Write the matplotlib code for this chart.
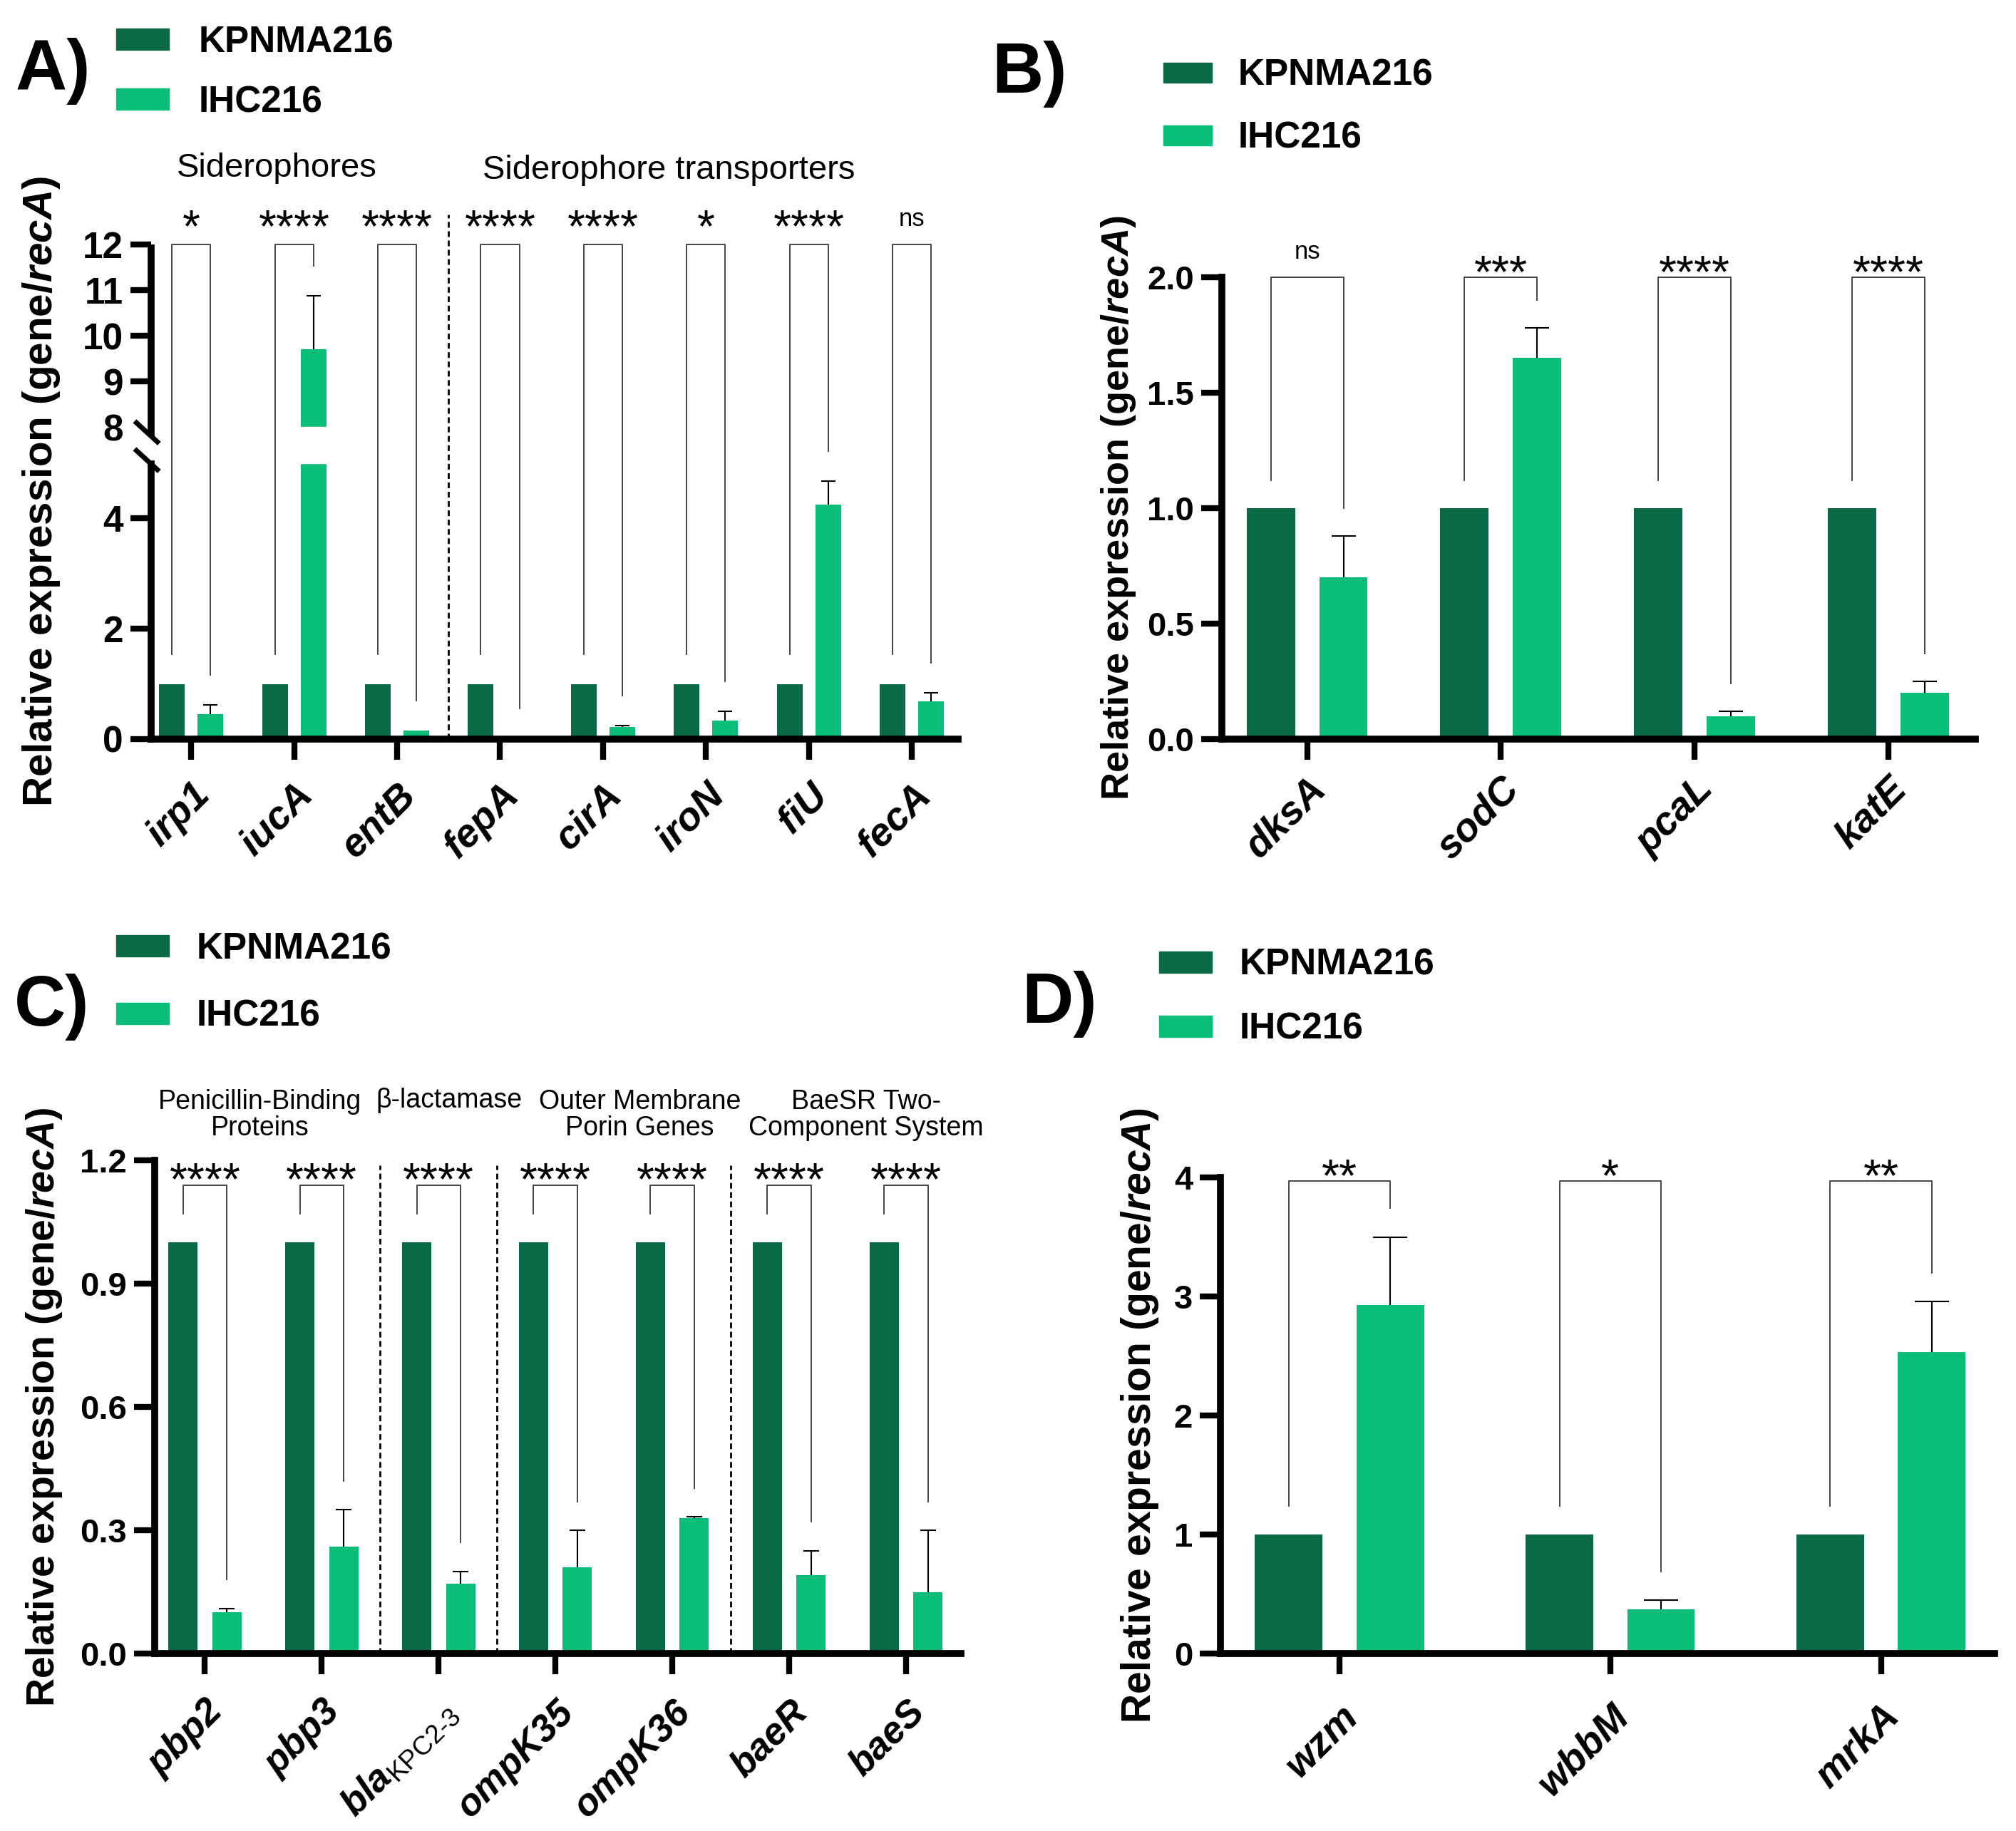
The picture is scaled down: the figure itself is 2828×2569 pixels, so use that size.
import numpy as np
import matplotlib
matplotlib.use('Agg')
import matplotlib.pyplot as plt
from matplotlib.patches import Rectangle

plt.rcParams['font.family'] = 'Liberation Sans'
plt.rcParams['mathtext.fontset'] = 'custom'
plt.rcParams['mathtext.rm'] = 'Liberation Sans'
plt.rcParams['mathtext.it'] = 'Liberation Sans:italic:bold'
plt.rcParams['mathtext.bf'] = 'Liberation Sans:bold'

STRAINS = ['KPNMA216', 'IHC216']
DARK = '#0B6A46'
LIGHT = '#08BE78'
LINE = '#454545'

# A) iron acquisition
genes_a = ['irp1', 'iucA', 'entB', 'fepA', 'cirA', 'iroN', 'fiU', 'fecA']
kpn_a = [1, 1, 1, 1, 1, 1, 1, 1]
ihc_a = [0.45, 9.70, 0.16, 0.02, 0.22, 0.33, 4.24, 0.68]
ihc_a_err = [0.17, 1.18, 0.0, 0.0, 0.03, 0.17, 0.43, 0.16]
sig_a = ['*', '****', '****', '****', '****', '*', '****', 'ns']
yticks_a = [0, 2, 4, 8, 9, 10, 11, 12]
groups_a = ['Siderophores', 'Siderophore transporters']

# B) oxidative stress
genes_b = ['dksA', 'sodC', 'pcaL', 'katE']
kpn_b = [1, 1, 1, 1]
ihc_b = [0.70, 1.65, 0.10, 0.20]
ihc_b_err = [0.18, 0.13, 0.02, 0.05]
sig_b = ['ns', '***', '****', '****']
yticks_b = [0.0, 0.5, 1.0, 1.5, 2.0]

# C) antibiotic resistance
genes_c = ['pbp2', 'pbp3', '$bla_{\\mathrm{KPC2\u20103}}$', 'ompK35', 'ompK36', 'baeR', 'baeS']
kpn_c = [1, 1, 1, 1, 1, 1, 1]
ihc_c = [0.10, 0.26, 0.17, 0.21, 0.33, 0.19, 0.15]
ihc_c_err = [0.01, 0.09, 0.03, 0.09, 0.003, 0.06, 0.15]
sig_c = ['****'] * 7
yticks_c = [0.0, 0.3, 0.6, 0.9, 1.2]
groups_c = ['Penicillin-Binding\nProteins', '\u03b2-lactamase',
            'Outer Membrane\nPorin Genes', 'BaeSR Two-\nComponent System']

# D) capsule / fimbriae
genes_d = ['wzm', 'wbbM', 'mrkA']
kpn_d = [1, 1, 1]
ihc_d = [2.93, 0.37, 2.53]
ihc_d_err = [0.57, 0.08, 0.43]
sig_d = ['**', '*', '**']
yticks_d = [0, 1, 2, 3, 4]

W, H = 2828, 2569
WIDTH = 0.25
OFF = 0.1875
YLABEL = 'Relative expression (gene/$\\mathit{recA}$)'
DOTTED = (0, (2.9, 1.8))

# broken y axis of panel A: 0-5 and 8-12
BRK_LO, BRK_HI, T_HI, K_UP = 5.0, 8.0, 5.652, 0.826


def fwd_a(v):
    v = np.asarray(v, float)
    mid = BRK_LO + (v - BRK_LO) / (BRK_HI - BRK_LO) * (T_HI - BRK_LO)
    return np.where(v <= BRK_LO, v, np.where(v >= BRK_HI, T_HI + (v - BRK_HI) * K_UP, mid))


def inv_a(t):
    t = np.asarray(t, float)
    mid = BRK_LO + (t - BRK_LO) / (T_HI - BRK_LO) * (BRK_HI - BRK_LO)
    return np.where(t <= BRK_LO, t, np.where(t >= T_HI, BRK_HI + (t - T_HI) / K_UP, mid))


fig = plt.figure(figsize=(W / 100, H / 100), dpi=100)


def axes_px(l, t, r, b):
    return fig.add_axes([l / W, 1 - b / H, (r - l) / W, (b - t) / H])


def setup(ax, genes, xlim, yticks, fmt, ylabel_x, ylabel_size=40,
          ysize=34, xsize=40, xpad=27):
    ax.set_xlim(xlim)
    ax.spines[['top', 'right']].set_visible(False)
    ax.spines[['left', 'bottom']].set_linewidth(7)
    ax.tick_params(width=6, length=21, pad=7)
    ax.tick_params(axis='y', labelsize=ysize)
    ax.tick_params(axis='x', labelsize=xsize, pad=xpad)
    ax.set_xticks(np.arange(len(genes)))
    ax.set_xticklabels(genes, rotation=45, ha='right', rotation_mode='anchor',
                       fontstyle='italic', fontweight='bold')
    ax.set_yticks(yticks, [fmt.format(v) for v in yticks], fontweight='bold')
    ax.set_ylabel(YLABEL, fontsize=ylabel_size, fontweight='bold')
    ax.yaxis.set_label_coords(ylabel_x, 0.5)


def draw_bars(ax, kpn, ihc, err, capsize):
    x = np.arange(len(kpn))
    ihc = np.asarray(ihc, float)
    err = np.asarray(err, float)
    ax.bar(x - OFF, kpn, WIDTH, color=DARK, zorder=2)
    ax.bar(x + OFF, ihc, WIDTH, color=LIGHT, zorder=2)
    m = err > 0
    eb = ax.errorbar(x[m] + OFF, ihc[m], yerr=[np.zeros(m.sum()), err[m]], fmt='none',
                     ecolor='black', elinewidth=1.5, capsize=capsize, capthick=1.5, zorder=3)
    for cap in eb[1]:
        if np.allclose(cap.get_ydata(), ihc[m]):
            cap.set_visible(False)


def draw_brackets(ax, kpn, ihc, err, sig, top, gap, fwd=None, inv=None, star_dy=-8):
    fwd = fwd or (lambda v: v)
    inv = inv or (lambda t: t)
    for i, label in enumerate(sig):
        xl, xr = i - OFF, i + OFF
        yl = float(inv(fwd(kpn[i]) + gap))
        yr = float(inv(fwd(ihc[i] + err[i]) + gap))
        ax.plot([xl, xl, xr, xr], [yl, top, top, yr], color=LINE, lw=1.4,
                zorder=4, clip_on=False)
        if label == 'ns':
            ax.annotate(label, (i, top), xytext=(0, 19), textcoords='offset points',
                        ha='center', va='baseline', fontsize=25)
        else:
            ax.annotate(label, (i, top), xytext=(0, star_dy), textcoords='offset points',
                        ha='center', va='baseline', fontsize=46)


def draw_legend(x0, cy1, cy2, tx, pw=74, ph=30):
    for cy, color, label in zip((cy1, cy2), (DARK, LIGHT), STRAINS):
        fig.patches.append(Rectangle((x0 / W, 1 - (cy + ph / 2) / H), pw / W, ph / H,
                                     transform=fig.transFigure, color=color))
        fig.text(tx / W, 1 - (cy + 18) / H, label, fontsize=37, fontweight='bold',
                 va='baseline')


def panel_letter(x, base, letter):
    fig.text(x / W, 1 - base / H, letter, fontsize=72, fontweight='bold', va='baseline')


# ---------------- A ----------------
ax = axes_px(212, 343, 1344, 1037)
ax.set_yscale('function', functions=(fwd_a, inv_a))
ax.set_ylim(0, 12)
setup(ax, genes_a, (-0.39, 7.45), yticks_a, '{:d}', -0.11, ylabel_size=42,
      ysize=37, xsize=40, xpad=17)
ax.yaxis.get_major_ticks()[3].tick1line.set_visible(False)
draw_bars(ax, kpn_a, ihc_a, ihc_a_err, capsize=7)
ax.axhspan(BRK_LO, BRK_HI, color='white', zorder=2.5)
ax.spines['left'].set_visible(False)
ytr = ax.get_yaxis_transform()
ax.plot([0, 0], [0, 4.98], transform=ytr, color='black', lw=7,
        solid_capstyle='projecting', zorder=5, clip_on=False)
ax.plot([0, 0], [7.2, 12], transform=ytr, color='black', lw=7,
        solid_capstyle='butt', zorder=5, clip_on=False)
ax.plot([0, 0], [4.98, 7.2], transform=ytr, linestyle='none',
        marker=[(-24, 22), (11, -10)], ms=34, mew=5, mec='black', zorder=6, clip_on=False)
draw_brackets(ax, kpn_a, ihc_a, ihc_a_err, sig_a, 12, 0.54, fwd_a, inv_a, star_dy=3)
ax.axvline(2.5, ymin=0, ymax=1.06, color='black', lw=2.0, ls=DOTTED,
           zorder=3, clip_on=False)
xtr = ax.get_xaxis_transform()
ax.text(0.83, 1.154, groups_a[0], transform=xtr, ha='center', va='center', fontsize=34)
ax.text(4.64, 1.15, groups_a[1], transform=xtr, ha='center', va='center', fontsize=34)
draw_legend(163, 55, 139, 279)
panel_letter(22, 126, 'A)')

# ---------------- B ----------------
ax = axes_px(1714, 389, 2771, 1037)
ax.set_ylim(0, 2.0)
setup(ax, genes_b, (-0.44, 3.45), yticks_b, '{:.1f}', -0.112, ylabel_size=39,
      xsize=40, xpad=11)
draw_bars(ax, kpn_b, ihc_b, ihc_b_err, capsize=12)
draw_brackets(ax, kpn_b, ihc_b, ihc_b_err, sig_b, 2.0, 0.12, star_dy=-10)
draw_legend(1632, 102, 190, 1737, pw=68, ph=28)
panel_letter(1391, 130, 'B)')

# ---------------- C ----------------
ax = axes_px(217, 1628, 1348, 2320)
ax.set_ylim(0, 1.2)
setup(ax, genes_c, (-0.43, 6.47), yticks_c, '{:.1f}', -0.112, xsize=38, xpad=20)
draw_bars(ax, kpn_c, ihc_c, ihc_c_err, capsize=8)
draw_brackets(ax, kpn_c, ihc_c, ihc_c_err, sig_c, 1.14, 0.07, star_dy=-10)
for xs in (1.5, 2.5, 4.5):
    ax.axvline(xs, ymin=0, ymax=0.99, color='black', lw=2.0, ls=DOTTED, zorder=3)
xtr = ax.get_xaxis_transform()
for gx, gy, text in zip((0.47, 2.09, 3.72, 5.66), (1.092, 1.121, 1.092, 1.092), groups_c):
    ax.text(gx, gy, text, transform=xtr, ha='center', va='center', fontsize=27,
            linespacing=1.05)
draw_legend(163, 1327, 1422, 276)
panel_letter(20, 1439, 'C)')

# ---------------- D ----------------
ax = axes_px(1712, 1652, 2798, 2320)
ax.set_ylim(0, 4)
setup(ax, genes_d, (-0.44, 2.42), yticks_d, '{:d}', -0.077, ylabel_size=41,
      xsize=40, xpad=24)
draw_bars(ax, kpn_d, ihc_d, ihc_d_err, capsize=17)
draw_brackets(ax, kpn_d, ihc_d, ihc_d_err, sig_d, 3.97, 0.24, star_dy=-10)
draw_legend(1626, 1350, 1440, 1739)
panel_letter(1433, 1435, 'D)')

fig.savefig('out.png', dpi=100)
